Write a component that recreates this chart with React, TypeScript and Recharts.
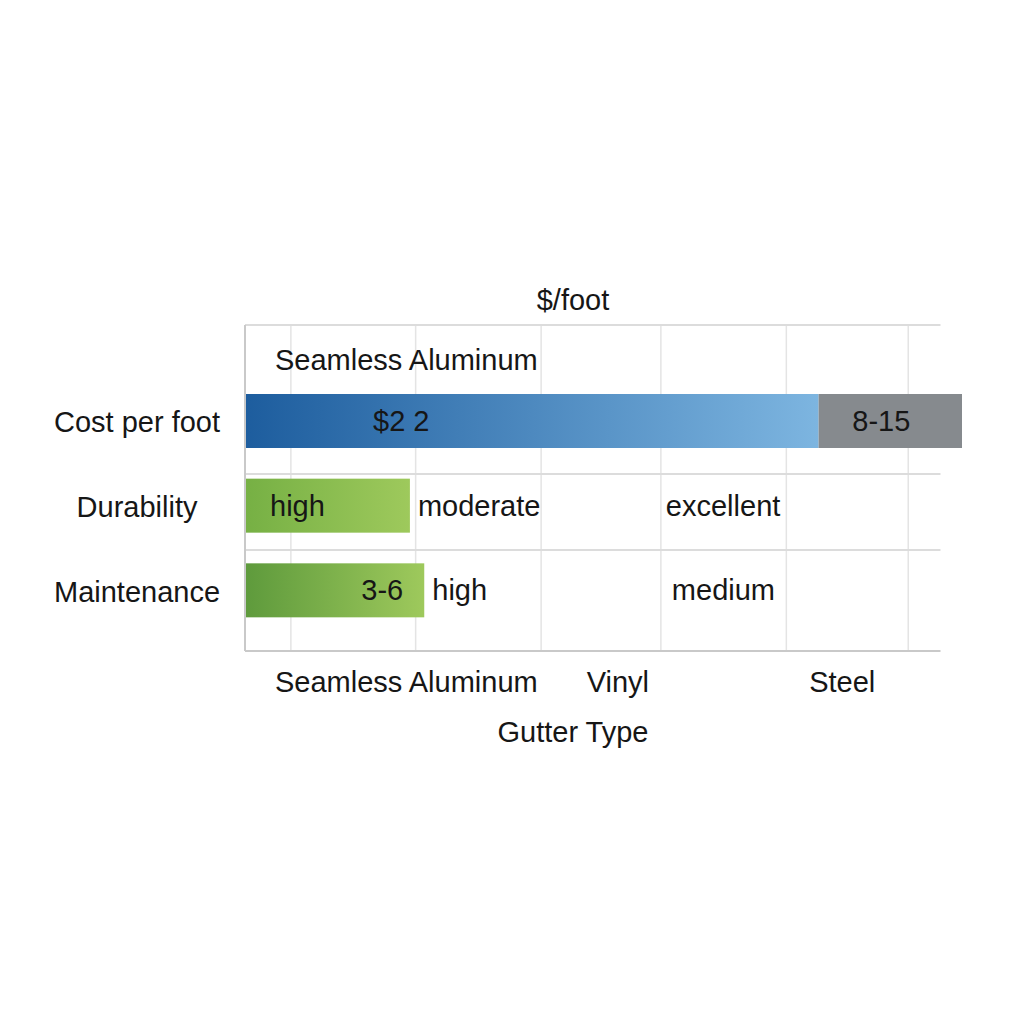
import { ComposedChart, Bar, XAxis, YAxis, CartesianGrid, Customized } from 'recharts'

// rows and bar segments
const metrics = ['Cost per foot', 'Durability', 'Maintenance']
const mainValues = [80, 23, 25]
const mainLabels = ['$2 2', 'high', '3-6']
const secondValues = [20, 35, 33]
const secondLabels = ['8-15', 'moderate', 'high']
const thirdValues = [0, 20, 20]
const thirdLabels = ['', 'excellent', 'medium']

// axis ticks
const gutterTypes = ['Seamless Aluminum', 'Vinyl', 'Steel']
const gutterTicks = [22.5, 52, 83.3]
const gridTicks = [6.4, 23.8, 41.3, 58, 75.5, 92.5]
// horizontal frame rules, as a share of the plot height, and where they stop on the x axis
const frameRows = [0, 45.7, 69]
const frameEnd = 97

const data = metrics.map((metric, i) => ({
    metric,
    main: mainValues[i],
    second: secondValues[i],
    third: thirdValues[i],
}))

const FONT = '"Liberation Sans", Arial, sans-serif'
const INK = '#161616'
const FS = 29

const mainGradients = [
    ['#1d5d9e', '#7db5e0'],
    ['#76b044', '#9ec95c'],
    ['#5e9a3c', '#9ec95c'],
]
const thirdOffsets = [0, 5, 11]

const label = (x: number, y: number, text: string, anchor: 'start' | 'middle' | 'end') => (
    <text x={x} y={y} textAnchor={anchor} dominantBaseline="central" fontFamily={FONT} fontSize={FS} fill={INK}>
        {text}
    </text>
)

const MainShape = (p: any) => {
    const { x, y, width, height, index } = p
    const cy = y + height / 2
    const [c0, c1] = mainGradients[index]
    const id = `main-grad-${index}`
    let txt
    if (index === 0) txt = label(x + 128, cy, mainLabels[index], 'start')
    else if (index === 1) txt = label(x + 25, cy, mainLabels[index], 'start')
    else txt = label(x + width - 21, cy, mainLabels[index], 'end')
    return (
        <g>
            <defs>
                <linearGradient id={id} x1="0" y1="0" x2="1" y2="0">
                    <stop offset="0%" stopColor={c0} />
                    <stop offset="100%" stopColor={c1} />
                </linearGradient>
            </defs>
            <rect x={x} y={y} width={width} height={height} fill={`url(#${id})`} />
            {txt}
        </g>
    )
}

const SecondShape = (p: any) => {
    const { x, y, width, height, index } = p
    const cy = y + height / 2
    if (index === 0) {
        return (
            <g>
                <rect x={x} y={y} width={width} height={height} fill="#868a8e" />
                {label(x + width / 2 - 9, cy, secondLabels[index], 'middle')}
            </g>
        )
    }
    return <g>{label(x + 8, cy, secondLabels[index], 'start')}</g>
}

const ThirdShape = (p: any) => {
    const { x, y, height, index } = p
    if (!thirdLabels[index]) return <g />
    return <g>{label(x + thirdOffsets[index], y + height / 2, thirdLabels[index], 'start')}</g>
}

const MetricTick = ({ y, payload }: any) => (
    <text x={129} y={y + 1} textAnchor="middle" dominantBaseline="central" fontFamily={FONT} fontSize={FS} fill={INK}>
        {payload.value}
    </text>
)

const GutterTick = ({ x, payload, index }: any) => (
    <text x={x} y={674} textAnchor="middle" dominantBaseline="central" fontFamily={FONT} fontSize={FS} fill={INK}>
        {gutterTypes[index] ?? payload.value}
    </text>
)

const Titles = () => (
    <g>
        {label(565, 292, '$/foot', 'middle')}
        {label(267, 352, 'Seamless Aluminum', 'start')}
        {label(565, 724, 'Gutter Type', 'middle')}
    </g>
)

const PLOT = { left: 237, top: 317, width: 717, height: 326 }
const X_AXIS_HEIGHT = 110

export default function App() {
    const frameWidth = (frameEnd / 100) * PLOT.width
    return (
        <div style={{ width: 1000, height: 1000, background: '#fff' }}>
            <ComposedChart
                width={1000}
                height={1000}
                data={data}
                layout="vertical"
                margin={{
                    top: PLOT.top,
                    right: 1000 - PLOT.left - PLOT.width,
                    bottom: 1000 - PLOT.top - PLOT.height - X_AXIS_HEIGHT,
                    left: 0,
                }}
            >
                <CartesianGrid
                    horizontal={false}
                    stroke="#e4e4e4"
                    strokeWidth={1.5}
                    verticalCoordinatesGenerator={({ xAxis, offset }: any) =>
                        gridTicks.map((t) =>
                            typeof xAxis?.scale === 'function' ? xAxis.scale(t) : offset.left + (t / 100) * offset.width
                        )
                    }
                />
                <CartesianGrid
                    vertical={false}
                    x={PLOT.left}
                    width={frameWidth}
                    stroke="#dcdcdc"
                    strokeWidth={2}
                    horizontalCoordinatesGenerator={() => frameRows.map((f) => PLOT.top + (f / 100) * PLOT.height)}
                />
                <CartesianGrid
                    vertical={false}
                    x={PLOT.left}
                    width={frameWidth}
                    stroke="#c9c9c9"
                    strokeWidth={2}
                    horizontalCoordinatesGenerator={() => [PLOT.top + PLOT.height]}
                />
                <XAxis
                    type="number"
                    domain={[0, 100]}
                    ticks={gutterTicks}
                    interval={0}
                    tick={<GutterTick />}
                    tickLine={false}
                    axisLine={false}
                    tickSize={0}
                    height={X_AXIS_HEIGHT}
                />
                <YAxis
                    type="category"
                    dataKey="metric"
                    width={PLOT.left}
                    padding={{ top: 54, bottom: 18 }}
                    tick={<MetricTick />}
                    tickLine={false}
                    axisLine={{ stroke: '#c9c9c9', strokeWidth: 2 }}
                />
                <Bar dataKey="main" stackId="a" barSize={54} shape={<MainShape />} isAnimationActive={false} />
                <Bar dataKey="second" stackId="a" barSize={54} shape={<SecondShape />} isAnimationActive={false} />
                <Bar dataKey="third" stackId="a" barSize={54} shape={<ThirdShape />} isAnimationActive={false} />
                <Customized component={Titles} />
            </ComposedChart>
        </div>
    )
}
